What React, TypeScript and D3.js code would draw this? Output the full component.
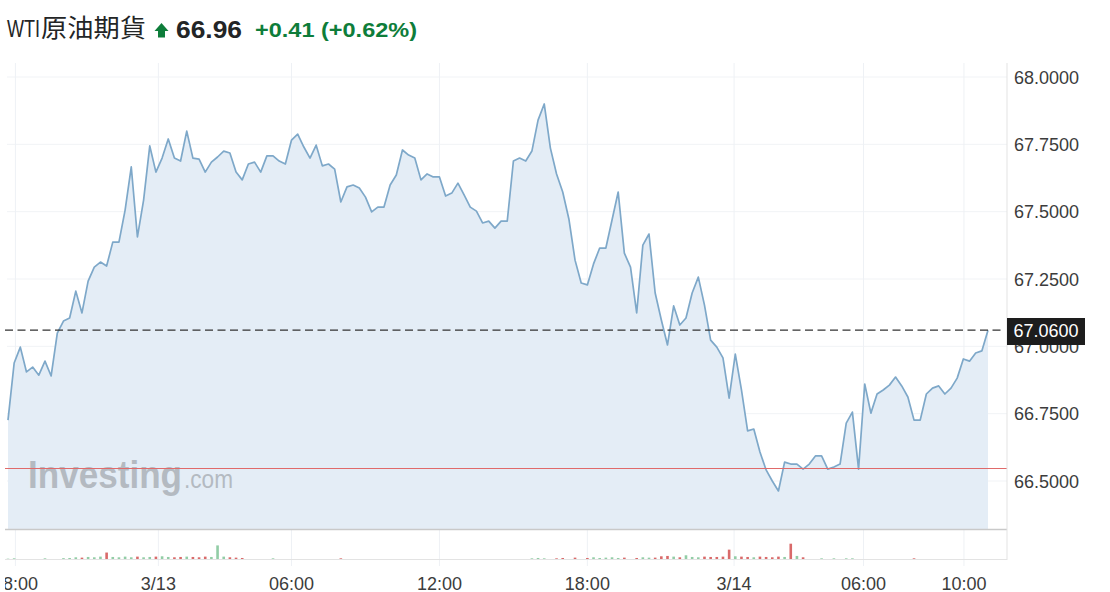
import React from "react";
import * as d3 from "d3";

const prices: number[] = [
  66.726, 66.938, 66.997, 66.905, 66.923, 66.893, 66.945, 66.890, 67.049, 67.094,
  67.105, 67.205, 67.124, 67.242, 67.294, 67.313, 67.298, 67.387, 67.387, 67.506,
  67.666, 67.406, 67.543, 67.744, 67.647, 67.699, 67.770, 67.699, 67.688, 67.799,
  67.699, 67.695, 67.647, 67.684, 67.703, 67.725, 67.718, 67.647, 67.618, 67.677,
  67.684, 67.647, 67.707, 67.707, 67.688, 67.677, 67.766, 67.788, 67.740, 67.699,
  67.747, 67.670, 67.677, 67.658, 67.536, 67.592, 67.599, 67.588, 67.554, 67.499,
  67.517, 67.517, 67.599, 67.636, 67.729, 67.710, 67.699, 67.618, 67.640, 67.629,
  67.629, 67.558, 67.569, 67.606, 67.562, 67.517, 67.502, 67.458, 67.465, 67.439,
  67.465, 67.465, 67.688, 67.699, 67.688, 67.725, 67.840, 67.900, 67.736, 67.640,
  67.573, 67.473, 67.320, 67.235, 67.228, 67.306, 67.365, 67.365, 67.469, 67.573,
  67.346, 67.294, 67.124, 67.376, 67.417, 67.198, 67.098, 67.005, 67.150, 67.079,
  67.105, 67.198, 67.257, 67.153, 67.023, 66.997, 66.957, 66.808, 66.971, 66.838,
  66.686, 66.693, 66.608, 66.541, 66.500, 66.463, 66.570, 66.563, 66.563, 66.544,
  66.563, 66.593, 66.593, 66.544, 66.552, 66.563, 66.715, 66.756, 66.544, 66.860,
  66.752, 66.823, 66.838, 66.856, 66.886, 66.853, 66.812, 66.726, 66.726, 66.823,
  66.845, 66.853, 66.823, 66.845, 66.882, 66.953, 66.945, 66.975, 66.983, 67.060,
];

const volumes: number[] = [
  2, 4, 0, 0, 0, 0, 4, 0, 0, 5,
  6, 10, 8, 12, 10, 14, 38, 12, 10, 14,
  10, 14, 10, 12, 14, 16, 12, 10, 12, 14,
  12, 10, 14, 12, 80, 14, 10, 8, 6, 0,
  0, 0, 0, 4, 0, 0, 0, 0, 0, 0,
  0, 0, 0, 0, 4, 0, 0, 0, 0, 0,
  0, 0, 0, 0, 0, 0, 0, 0, 0, 0,
  0, 0, 0, 0, 0, 0, 0, 0, 0, 0,
  0, 0, 0, 0, 0, 4, 6, 4, 0, 4,
  6, 0, 8, 0, 6, 10, 6, 8, 10, 6,
  8, 0, 6, 10, 8, 8, 16, 18, 14, 10,
  22, 12, 10, 14, 12, 12, 14, 55, 16, 14,
  12, 10, 14, 12, 10, 14, 12, 90, 18, 10,
  0, 0, 4, 0, 4, 0, 4, 4, 0, 0,
  0, 0, 0, 0, 0, 0, 0, 4, 0, 0,
  0, 0, 0, 0, 0, 0, 0, 0, 0, 0,
];

const yTicks: number[] = [66.5, 66.75, 67.0, 67.25, 67.5, 67.75, 68.0];
const xTickLabels: string[] = ["18:00", "3/13", "06:00", "12:00", "18:00", "3/14", "06:00", "10:00"];
const xTickIndex: number[] = [1.2, 24.4, 46.0, 70.0, 94.0, 117.8, 138.8, 155.1];
const lastPrice = 67.06;
const prevClose = 66.55;

const W = 1110;
const H = 592;

export default function App() {
  const x = d3.scaleLinear().domain([0, prices.length - 1]).range([8, 988]);
  const y = d3.scaleLinear().domain([66.5, 68.0]).range([481, 77]);
  const vy = d3.scaleLinear().domain([0, 100]).range([559, 542]);
  const plotBottom = 529;
  const axisX = 1007;
  const top = 63;

  const line = d3.line<number>().x((_, i) => x(i)).y((d) => y(d));
  const area = d3
    .area<number>()
    .x((_, i) => x(i))
    .y0(plotBottom)
    .y1((d) => y(d));

  const axisFont = "'Liberation Sans', Arial, sans-serif";
  const redY = Math.round(y(prevClose)) + 0.5;

  return (
    <svg
      width={W}
      height={H}
      style={{ position: "absolute", left: 0, top: 0, background: "#fff" }}
    >
      <defs>
        <clipPath id="xlab">
          <rect x={5} y={0} width={1105} height={592} />
        </clipPath>
      </defs>
      {/* Header */}
      <text x={7} y={37} fontFamily={axisFont} fontSize={23} fill="#232526" textLength={33} lengthAdjust="spacingAndGlyphs">
        WTI
      </text>
      <text x={41} y={37} fontFamily="'Noto Sans CJK TC', sans-serif" fontSize={25} fill="#232526" textLength={105} lengthAdjust="spacingAndGlyphs">
        原油期貨
      </text>
      <path d="M154.5,31 L161.5,23 L168.5,31 L165,31 L165,37.5 L158,37.5 L158,31 Z" fill="#0e7d3a" />
      <text x={176} y={37.5} fontFamily={axisFont} fontSize={24} fontWeight={700} fill="#232526" textLength={66} lengthAdjust="spacingAndGlyphs">
        66.96
      </text>
      <text x={255} y={37} fontFamily={axisFont} fontSize={21} fontWeight={700} fill="#0e7d3a" textLength={162} lengthAdjust="spacingAndGlyphs">
        +0.41 (+0.62%)
      </text>

      {/* Grid */}
      {yTicks.map((t) => (
        <line key={"gy" + t} x1={7} x2={axisX} y1={y(t)} y2={y(t)} stroke="#f1f3f6" strokeWidth={1} />
      ))}
      {xTickIndex.map((t, i) => (
        <line key={"gx" + i} x1={x(t)} x2={x(t)} y1={top} y2={566} stroke="#eef1f5" strokeWidth={1} />
      ))}

      {/* Area + line */}
      <path d={area(prices) || ""} fill="#e4edf6" />
      <path d={line(prices) || ""} fill="none" stroke="#7ea8c9" strokeWidth={1.7} strokeLinejoin="round" />

      {/* Watermark */}
      <g opacity={0.55}>
        <text x={28} y={488} fontFamily={axisFont} fontSize={38} fontWeight={700} fill="#8d9296" textLength={154} lengthAdjust="spacingAndGlyphs">
          Investing
        </text>
        <text x={184} y={488} fontFamily={axisFont} fontSize={25} fill="#8d9296" textLength={49} lengthAdjust="spacingAndGlyphs">
          .com
        </text>
      </g>

      {/* Reference lines */}
      <line x1={5} x2={axisX} y1={redY} y2={redY} stroke="#e06a6a" strokeWidth={1} />
      <line x1={5} x2={1002} y1={y(lastPrice)} y2={y(lastPrice)} stroke="#333333" strokeWidth={1.4} strokeDasharray="8,4.5" />

      {/* Plot borders */}
      <line x1={5} x2={axisX} y1={plotBottom + 0.5} y2={plotBottom + 0.5} stroke="#c9c9c9" strokeWidth={1.5} />
      <line x1={5} x2={axisX} y1={559.5} y2={559.5} stroke="#e3e3e3" strokeWidth={1} />
      <line x1={axisX} x2={axisX} y1={top} y2={560} stroke="#e3e3e3" strokeWidth={1} />

      {/* Volume */}
      {volumes.map((v, i) => {
        if (v <= 0) return null;
        const up = i === 0 ? true : prices[i] >= prices[i - 1];
        return (
          <rect
            key={"v" + i}
            x={x(i) - 1.3}
            width={2.6}
            y={vy(v)}
            height={vy(0) - vy(v)}
            fill={up ? "#92cda6" : "#d96a6a"}
          />
        );
      })}

      {/* Y labels */}
      {yTicks.map((t) => (
        <text key={"yl" + t} x={1014} y={y(t) + 6.5} fontFamily={axisFont} fontSize={18} fill="#3c3c3c">
          {t.toFixed(4)}
        </text>
      ))}
      <rect x={1007} y={318} width={78} height={27} fill="#1d1d1d" />
      <text x={1046} y={y(lastPrice) + 6.5} textAnchor="middle" fontFamily={axisFont} fontSize={18} fill="#ffffff">
        {lastPrice.toFixed(4)}
      </text>

      {/* X labels */}
      {xTickIndex.map((t, i) => (
        <text
          key={"xl" + i}
          x={x(t)}
          y={590}
          textAnchor="middle"
          fontFamily={axisFont}
          fontSize={18}
          fill="#3c3c3c"
          clipPath={i === 0 ? "url(#xlab)" : undefined}
        >
          {xTickLabels[i]}
        </text>
      ))}
    </svg>
  );
}
